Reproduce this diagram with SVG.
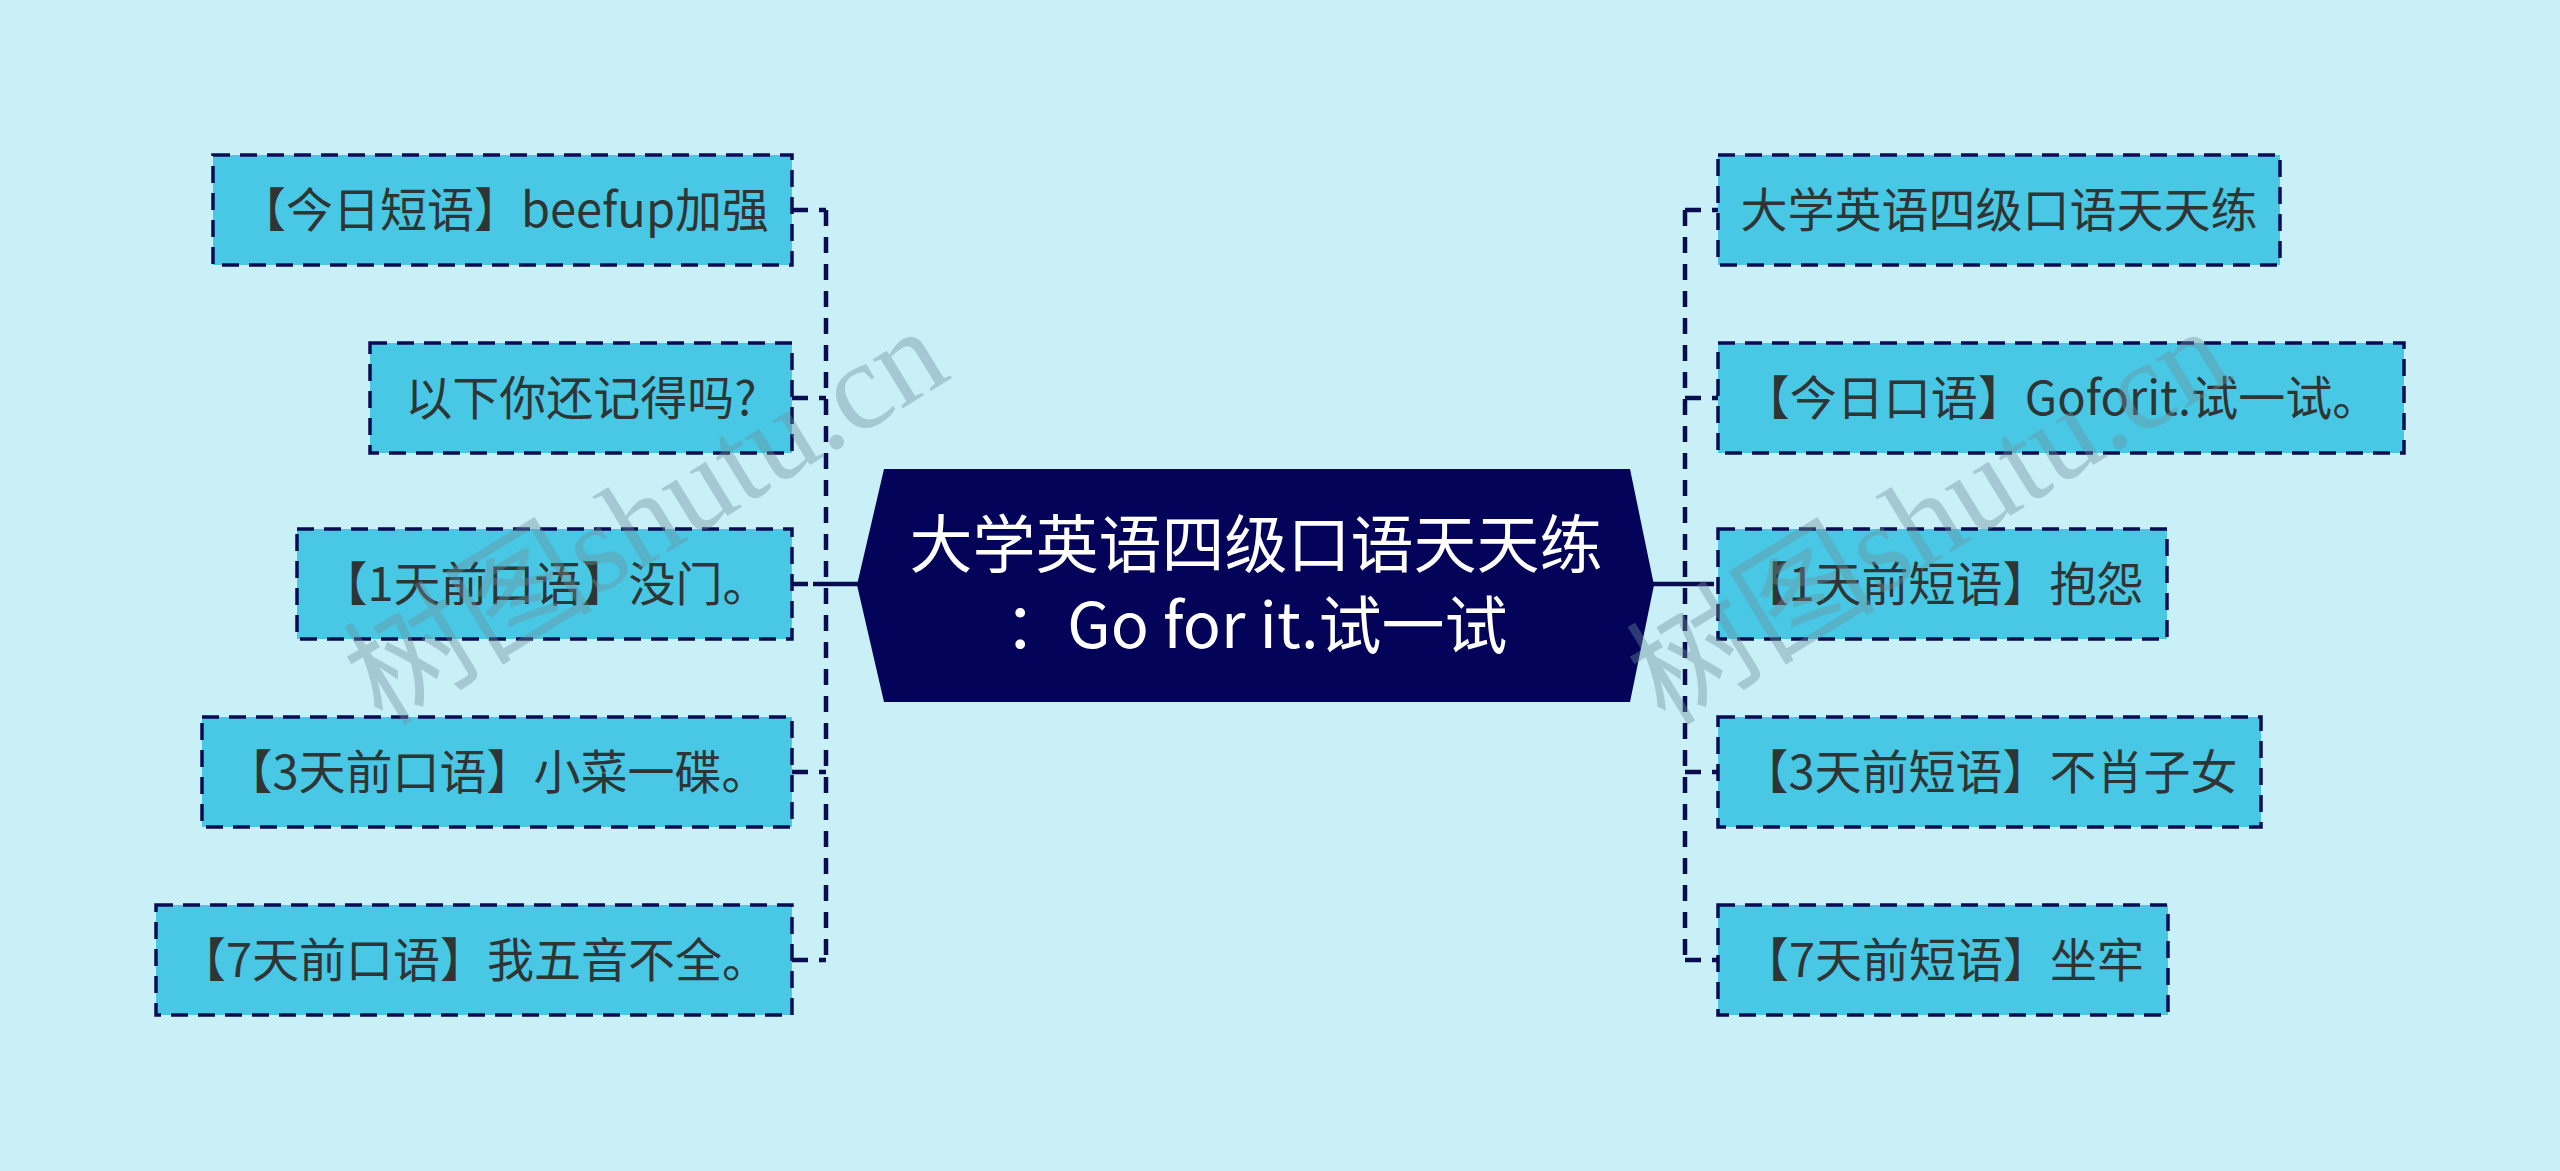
<svg xmlns="http://www.w3.org/2000/svg" width="2560" height="1171" viewBox="0 0 2560 1171">
<style>
.bg{fill:#C9F0F7}
.box{fill:#48C8E4;stroke:#0A0C52;stroke-width:3.5;stroke-dasharray:17 10}
.lbl{font-family:"Noto Sans CJK SC","Noto Sans",sans-serif;font-size:47px;fill:#2F3535;text-anchor:middle}
.ctr{font-family:"Noto Sans CJK SC","Noto Sans",sans-serif;font-size:63px;fill:#FFFFFF;text-anchor:middle}
.dash{fill:none;stroke:#0A0C52;stroke-width:4.5;stroke-dasharray:16 11}
.solid{fill:none;stroke:#0A0C52;stroke-width:4.5}
.wm{font-family:"Liberation Serif","Noto Sans CJK SC",serif;font-size:125px;fill:#6F8F9A;fill-opacity:0.4;text-anchor:middle}
</style>
<rect class="bg" x="0" y="0" width="2560" height="1171"/>

<g id="connectors">
  <path class="dash" d="M826 210 V960"/>
  <path class="dash" d="M792 210 H826 M792 398 H826 M792 584 H813 M792 772 H826 M792 960 H826"/>
  <path class="solid" d="M813 584 H858"/>
  <path class="dash" d="M1685 210 V960"/>
  <path class="dash" d="M1685 210 H1718 M1685 398 H1718 M1698 584 H1718 M1685 772 H1718 M1685 960 H1718"/>
  <path class="solid" d="M1652 584 H1698"/>
</g>

<g id="center">
  <polygon points="857,585 884,469 1630,469 1654,585 1630,702 884,702" fill="#03035A"/>
  <text class="ctr" x="1256" y="567">大学英语四级口语天天练</text>
  <text class="ctr" x="1256" y="648">：Go for it.试一试</text>
</g>

<g id="node-l1">
  <rect class="box" x="213" y="155" width="579" height="110"/>
  <text class="lbl" x="504" y="227">【今日短语】beefup加强</text>
</g>
<g id="node-l2">
  <rect class="box" x="370" y="343" width="422" height="110"/>
  <text class="lbl" x="581" y="415">以下你还记得吗?</text>
</g>
<g id="node-l3">
  <rect class="box" x="297" y="529" width="495" height="110"/>
  <text class="lbl" x="545" y="601">【1天前口语】没门。</text>
</g>
<g id="node-l4">
  <rect class="box" x="202" y="717" width="590" height="110"/>
  <text class="lbl" x="497" y="789">【3天前口语】小菜一碟。</text>
</g>
<g id="node-l5">
  <rect class="box" x="156" y="905" width="636" height="110"/>
  <text class="lbl" x="474" y="977">【7天前口语】我五音不全。</text>
</g>

<g id="node-r1">
  <rect class="box" x="1718" y="155" width="562" height="110"/>
  <text class="lbl" x="1999" y="227">大学英语四级口语天天练</text>
</g>
<g id="node-r2">
  <rect class="box" x="1718" y="343" width="686" height="110"/>
  <text class="lbl" x="2061" y="415">【今日口语】Goforit.试一试。</text>
</g>
<g id="node-r3">
  <rect class="box" x="1718" y="529" width="449" height="110"/>
  <text class="lbl" x="1942.5" y="601">【1天前短语】抱怨</text>
</g>
<g id="node-r4">
  <rect class="box" x="1718" y="717" width="543" height="110"/>
  <text class="lbl" x="1989.5" y="789">【3天前短语】不肖子女</text>
</g>
<g id="node-r5">
  <rect class="box" x="1718" y="905" width="450" height="110"/>
  <text class="lbl" x="1943" y="977">【7天前短语】坐牢</text>
</g>

<g id="watermarks">
  <text class="wm" transform="translate(647,518) rotate(-31.5)" x="0" y="40">树图shutu.cn</text>
  <text class="wm" transform="translate(1930,518) rotate(-31.5)" x="0" y="40">树图shutu.cn</text>
</g>
</svg>
